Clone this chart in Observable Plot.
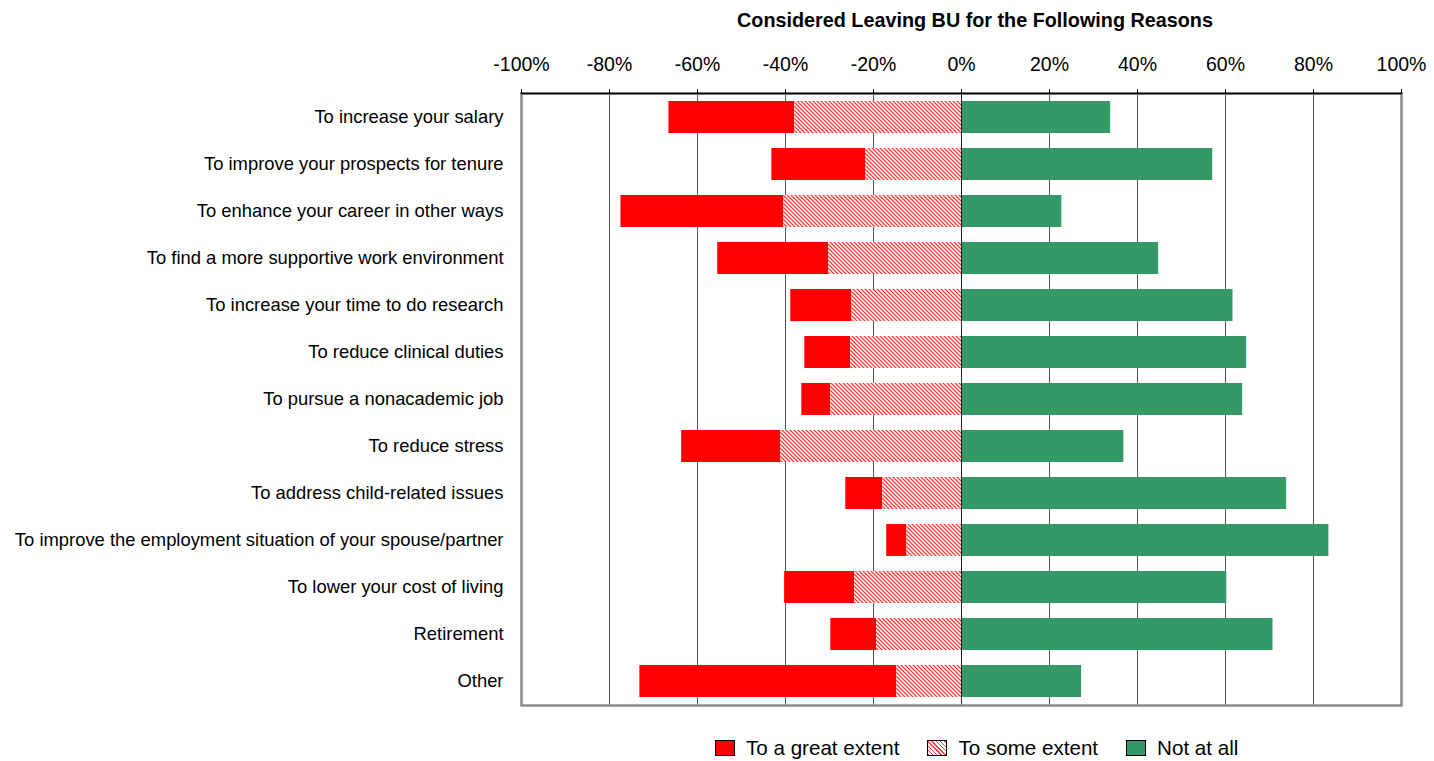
<!DOCTYPE html>
<html><head><meta charset="utf-8">
<script src="https://cdn.jsdelivr.net/npm/d3@7"></script>
<script src="https://cdn.jsdelivr.net/npm/@observablehq/plot@0.6"></script>
<style>
body{margin:0;background:#fff;font-family:"Liberation Sans",Arial,sans-serif;color:#000;}
#title{height:40px;box-sizing:border-box;padding-top:9px;font-weight:bold;font-size:19.8px;text-align:center;margin-left:529px;width:892px;line-height:1.15;}
#chart{height:673px;}
#legend{height:48px;box-sizing:border-box;padding-top:21px;padding-left:715px;display:flex;align-items:center;font-size:20.6px;}
.item{display:flex;align-items:center;margin-right:28px;}
.sw{width:18px;height:14px;border:1.5px solid #000;margin-right:11px;}
</style></head><body>
<svg width="0" height="0" style="position:absolute">
  <defs>
    <pattern id="hatch" width="4" height="4" patternUnits="userSpaceOnUse">
      <rect width="4" height="4" fill="#fff"/>
      <path d="M-1,-1 L5,5 M-1,3 L1,5 M3,-1 L5,1" stroke="#ff3c3c" stroke-width="1.3"/>
    </pattern>
  </defs>
</svg>
<div id="title">Considered Leaving BU for the Following Reasons</div>
<div id="chart"></div>
<div id="legend"></div>
<script>
const reasons = [
  "To increase your salary",
  "To improve your prospects for tenure",
  "To enhance your career in other ways",
  "To find a more supportive work environment",
  "To increase your time to do research",
  "To reduce clinical duties",
  "To pursue a nonacademic job",
  "To reduce stress",
  "To address child-related issues",
  "To improve the employment situation of your spouse/partner",
  "To lower your cost of living",
  "Retirement",
  "Other"
];
const greatExtent = [28.6, 21.3, 37.0, 25.2, 13.9, 10.4, 6.6, 22.5, 8.4, 4.6, 15.9, 10.4, 58.4];
const someExtent  = [37.9, 21.8, 40.4, 30.2, 24.9, 25.2, 29.7, 41.1, 17.9, 12.4, 24.3, 19.3, 14.7];
const notAtAll    = [33.9, 57.1, 22.8, 44.8, 61.7, 64.8, 63.9, 36.9, 73.9, 83.5, 60.3, 70.8, 27.3];
const seriesNames = ["To a great extent", "To some extent", "Not at all"];
const seriesFills = ["#ff0000", "url(#hatch)", "#339966"];
const xTicks = [-100, -80, -60, -40, -20, 0, 20, 40, 60, 80, 100];

const rows = [];
reasons.forEach((r, i) => {
  rows.push({reason: r, series: seriesNames[0], x1: -(someExtent[i] + greatExtent[i]), x2: -someExtent[i]});
  rows.push({reason: r, series: seriesNames[1], x1: -someExtent[i], x2: 0});
  rows.push({reason: r, series: seriesNames[2], x1: 0, x2: notAtAll[i]});
});

const chart = Plot.plot({
  width: 1434, height: 673,
  marginLeft: 521, marginRight: 33, marginTop: 53, marginBottom: 8,
  style: {fontFamily: '"Liberation Sans", Arial, sans-serif', fontSize: "18px", color: "#000", background: "#fff"},
  x: {domain: [-100, 100], ticks: xTicks},
  y: {domain: reasons, paddingInner: 0.325, paddingOuter: 0.1625},
  marks: [
    Plot.ruleX(xTicks.slice(1, -1), {stroke: "#555", strokeWidth: 1}),
    ...seriesNames.map((s, k) => Plot.barX(rows.filter(d => d.series === s), {y: "reason", x1: "x1", x2: "x2", fill: seriesFills[k]})),
    Plot.ruleX([0], {stroke: "#222", strokeWidth: 1}),
    Plot.frame({stroke: "#8c8c8c", strokeWidth: 2.5}),
    Plot.frame({anchor: "top", stroke: "#000", strokeWidth: 1.5}),
    Plot.axisX(xTicks, {anchor: "top", tickSize: 5, tickPadding: 18, tickFormat: d => d + "%", fontSize: 19.5, label: null}),
    Plot.axisY({tickSize: 0, tickPadding: 18, fontSize: 18.4, label: null})
  ]
});
document.getElementById("chart").appendChild(chart);

const legend = document.getElementById("legend");
seriesNames.forEach((s, k) => {
  const item = document.createElement("div");
  item.className = "item";
  const sw = document.createElement("div");
  sw.className = "sw";
  sw.style.background = k === 1
    ? "repeating-linear-gradient(45deg, #ff3c3c 0 1px, #fff 1px 3px)"
    : seriesFills[k];
  const tx = document.createElement("span");
  tx.textContent = s;
  item.appendChild(sw); item.appendChild(tx);
  legend.appendChild(item);
});
</script>
</body></html>
